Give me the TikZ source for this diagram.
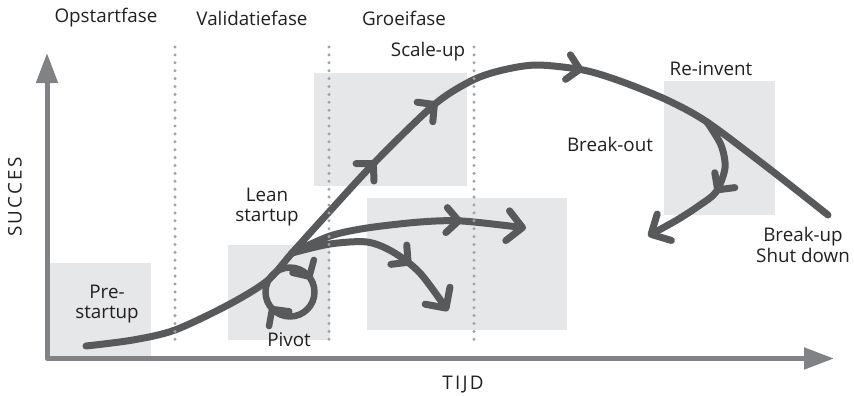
\documentclass[tikz,border=0pt]{standalone}
\usepackage{fontspec}
\setmainfont{Open Sans}
\usepackage{tikz}
\usetikzlibrary{arrows.meta}
\usetikzlibrary{decorations.markings}
\definecolor{curvegray}{RGB}{88,89,91}
\definecolor{axisgray}{RGB}{128,130,133}
\definecolor{boxgray}{RGB}{230,231,232}
\definecolor{dotgray}{RGB}{160,162,165}
\definecolor{textgray}{RGB}{35,31,32}

\begin{document}
\begin{tikzpicture}[
x=1pt, y=-1pt,
MyBox/.style={fill=boxgray},
MyAxis/.style={draw=axisgray, line width=5pt, line join=round},
MyDots/.style={draw=dotgray, line width=3.3pt, line cap=round, dash pattern=on 0pt off 7.9pt},
MyCurve/.style={draw=curvegray, line width=7pt, line cap=round, line join=round},
MyLabel/.style={text=textgray, font=\fontsize{18.8}{20.5}\selectfont, align=center, inner sep=0pt},
MyChevron/.tip={Straight Barb[round, length=12pt, width=25pt]},
MyChevronEnd/.tip={Straight Barb[round, length=15pt, width=30pt]}
]
\useasboundingbox (0,0) rectangle (854,396);

% grey areas
\fill[MyBox] (49,263) rectangle (151,357);
\fill[MyBox] (228,245) rectangle (330,340);
\fill[MyBox] (314,73) rectangle (467,186);
\fill[MyBox] (367,198) rectangle (567,330);
\fill[MyBox] (664,81) rectangle (775,215);

% axes
\coordinate (YTip) at (47,53);
\coordinate (O) at (47,358.5);
\coordinate (XTip) at (834,358.5);
\draw[MyAxis, {Triangle[length=30pt, width=21pt]}-{Triangle[length=30pt, width=21pt]}] (YTip) -- (O) -- (XTip);

% points of the curve
\coordinate (Start) at (86,346);
\coordinate (Junction) at (292,253);
\coordinate (Fork) at (707,122);
\coordinate (End) at (828,215);
\coordinate (UpEnd) at (526,228);
\coordinate (LowEnd) at (448,311);
\coordinate (ReEnd) at (648,236);
\coordinate (LoopC) at (290,292);

\draw[MyCurve, postaction=decorate, decoration={markings,
  mark=at position 357pt with {\arrow{MyChevron}},
  mark=at position 442pt with {\arrow{MyChevron}},
  mark=at position 597pt with {\arrow{MyChevron}}}]
  plot[smooth] coordinates {(Start) (133,340) (175,330) (228,305) (267,281) (Junction) (329,212) (377,160) (435,104) (473,80) (503,70) (537,65) (583,70) (620,81) (667,100) (Fork) (767,167) (End)};

% pivot loop
\draw[MyCurve, line width=6.5pt, postaction=decorate, decoration={markings,
  mark=at position 0.40 with {\arrow{MyChevron}},
  mark=at position 0.914 with {\arrow{MyChevron}}}]
  (LoopC) circle[radius=24.5];

% branches
\draw[MyCurve, -MyChevronEnd, postaction=decorate, decoration={markings,
  mark=at position 175pt with {\arrow{MyChevron}}}]
  plot[smooth] coordinates {(Junction) (330,236) (367,228) (420,222) (462,221) (UpEnd)};

\draw[MyCurve, -MyChevronEnd, postaction=decorate, decoration={markings,
  mark=at position 126pt with {\arrow{MyChevron}}}]
  plot[smooth] coordinates {(Junction) (330,244) (367,242) (393,252) (420,273) (LowEnd)};

\draw[MyCurve, -MyChevronEnd, postaction=decorate, decoration={markings,
  mark=at position 77pt with {\arrow{MyChevron}}}]
  plot[smooth] coordinates {(Fork) (721,145) (725,168) (716,192) (700,205) (677,220) (ReEnd)};

% phase borders
\foreach \xd in {175,329,474}
  \draw[MyDots] (\xd,47) -- (\xd,347);

% texts
\node[MyLabel] (opstart) at (106,18) {Opstartfase};
\node[MyLabel] (validatie) at (252,18) {Validatiefase};
\node[MyLabel] (groei) at (404,18) {Groeifase};
\node[MyLabel] (scaleup) at (428,52) {Scale-up};
\node[MyLabel] (reinvent) at (711,69) {Re-invent};
\node[MyLabel] (breakout) at (610,144) {Break-out};
\node[MyLabel] (lean) at (267,207) {Lean\\startup};
\node[MyLabel] (prestart) at (107,304) {Pre-\\startup};
\node[MyLabel] (pivot) at (289,340) {Pivot};
\node[MyLabel] (breakup) at (803,245) {Break-up\\Shut down};
\node[MyLabel, rotate=90] (succes) at (15,197) {\addfontfeature{LetterSpace=12}SUCCES};
\node[MyLabel] (tijd) at (463,385) {\addfontfeature{LetterSpace=12}TIJD};

\end{tikzpicture}
\end{document}
